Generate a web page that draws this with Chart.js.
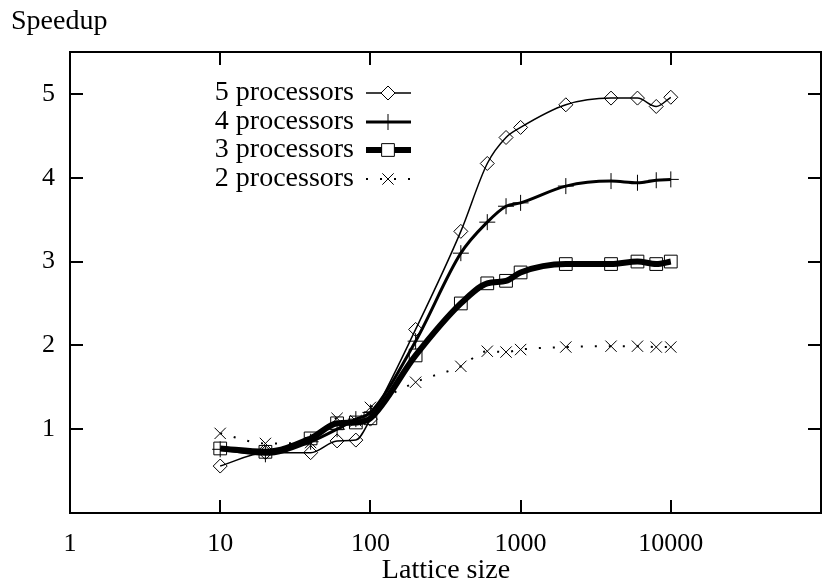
<!DOCTYPE html>
<html>
<head>
<meta charset="UTF-8">
<title>Speedup vs lattice size</title>
<script src="https://cdn.jsdelivr.net/npm/chart.js"></script>
<style>
  html, body { margin: 0; padding: 0; background: #fff; }
  #wrap { width: 824px; height: 586px; }
</style>
</head>
<body>
<div id="wrap"><canvas id="c" width="824" height="586"></canvas></div>
<script>
// lattice sizes and measured speedups
const sizes = [10, 20, 40, 60, 80, 100, 200, 400, 600, 800, 1000, 2000, 4000, 6000, 8000, 10000];
const p5 = [0.56, 0.72, 0.72, 0.86, 0.87, 1.12, 2.19, 3.36, 4.17, 4.48, 4.60, 4.87, 4.95, 4.95, 4.85, 4.96];
const p4 = [0.76, 0.70, 0.85, 1.00, 1.12, 1.20, 2.05, 3.10, 3.47, 3.66, 3.70, 3.90, 3.96, 3.94, 3.97, 3.98];
const p3 = [0.77, 0.73, 0.89, 1.07, 1.08, 1.13, 1.88, 2.50, 2.74, 2.77, 2.87, 2.97, 2.97, 3.00, 2.97, 3.00];
const p2 = [0.95, 0.83, 0.84, 1.13, 1.10, 1.26, 1.56, 1.75, 1.93, 1.92, 1.95, 1.98, 1.99, 1.99, 1.98, 1.98];
const xTicks = [1, 10, 100, 1000, 10000, 100000];
const yTicks = [1, 2, 3, 4, 5];

const FONT = "Liberation Serif, Times New Roman, serif";

function pts(vals) {
  return vals.map((v, i) => ({ x: sizes[i], y: v }));
}

const series = [
  { label: "5 processors", data: pts(p5), width: 1.5, dash: [], style: "rectRot", r: 7 },
  { label: "4 processors", data: pts(p4), width: 3, dash: [], style: "cross", r: 8 },
  { label: "3 processors", data: pts(p3), width: 6, dash: [], style: "rect", r: 9 },
  { label: "2 processors", data: pts(p2), width: 2, dash: [2, 12], style: "crossRot", r: 8 }
];

// frame, inward tick marks, axis titles and key
const decor = {
  id: "decor",
  afterDraw(chart) {
    const ctx = chart.ctx;
    const a = chart.chartArea;
    const xs = chart.scales.x, ys = chart.scales.y;
    ctx.save();
    ctx.strokeStyle = "#000";
    ctx.lineWidth = 2;
    ctx.setLineDash([]);
    ctx.strokeRect(a.left, a.top, a.right - a.left, a.bottom - a.top);
    const tl = 13;
    ctx.beginPath();
    xTicks.slice(1, -1).forEach(v => {
      const px = Math.round(xs.getPixelForValue(v));
      ctx.moveTo(px, a.bottom); ctx.lineTo(px, a.bottom - tl);
      ctx.moveTo(px, a.top); ctx.lineTo(px, a.top + tl);
    });
    yTicks.forEach(v => {
      const py = Math.round(ys.getPixelForValue(v));
      ctx.moveTo(a.left, py); ctx.lineTo(a.left + tl, py);
      ctx.moveTo(a.right, py); ctx.lineTo(a.right - tl, py);
    });
    ctx.stroke();

    ctx.fillStyle = "#000";
    ctx.font = "28px " + FONT;
    ctx.textBaseline = "middle";
    ctx.textAlign = "left";
    ctx.fillText("Speedup", 11, 22);
    ctx.textAlign = "center";
    ctx.fillText("Lattice size", 446, 571);

    // key
    const rows = [93, 122, 150, 179];
    series.forEach((s, i) => {
      const y = rows[i];
      ctx.fillStyle = "#000";
      ctx.textAlign = "right";
      ctx.fillText(s.label, 354, y);
      ctx.beginPath();
      ctx.lineWidth = s.width;
      ctx.setLineDash(s.dash);
      ctx.moveTo(366, y); ctx.lineTo(411, y);
      ctx.stroke();
      ctx.setLineDash([]);
      ctx.lineWidth = 1;
      ctx.fillStyle = "#fff";
      Chart.helpers.drawPoint(ctx, { pointStyle: s.style, radius: s.r, borderWidth: 1, rotation: 0 }, 388, y);
    });
    ctx.restore();
  }
};

new Chart(document.getElementById("c"), {
  type: "line",
  data: {
    datasets: series.map(s => ({
      label: s.label,
      data: s.data,
      borderColor: "#000",
      borderWidth: s.width,
      borderDash: s.dash,
      cubicInterpolationMode: "monotone",
      pointStyle: s.style,
      pointRadius: s.r,
      pointBorderWidth: 1,
      pointBorderColor: "#000",
      pointBackgroundColor: "rgba(0,0,0,0)",
      fill: false
    }))
  },
  options: {
    responsive: false,
    animation: false,
    layout: { autoPadding: false, padding: { top: 52, right: 3, left: 0, bottom: 0 } },
    plugins: { legend: { display: false }, tooltip: { enabled: false } },
    scales: {
      x: {
        type: "logarithmic",
        min: 1,
        max: 100000,
        grid: { display: false, drawTicks: false },
        border: { display: false },
        afterBuildTicks: sc => { sc.ticks = xTicks.map(v => ({ value: v })); },
        afterFit: sc => { sc.height = 73; sc.paddingLeft = 0; sc.paddingRight = 0; },
        ticks: {
          color: "#000",
          font: { family: FONT, size: 26 },
          padding: 16,
          maxRotation: 0,
          autoSkip: false,
          callback: v => (v === 100000 ? "" : String(v))
        }
      },
      y: {
        min: 0,
        max: 5.5,
        grid: { display: false, drawTicks: false },
        border: { display: false },
        afterBuildTicks: sc => { sc.ticks = yTicks.map(v => ({ value: v })); },
        afterFit: sc => { sc.width = 70; sc.paddingTop = 0; sc.paddingBottom = 0; },
        ticks: {
          color: "#000",
          font: { family: FONT, size: 26 },
          padding: 15
        }
      }
    }
  },
  plugins: [decor]
});
</script>
</body>
</html>
